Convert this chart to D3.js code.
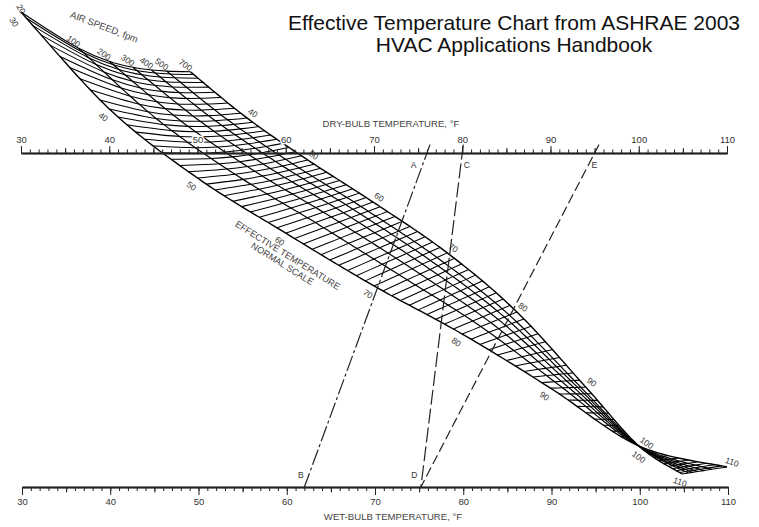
<!DOCTYPE html>
<html>
<head>
<meta charset="utf-8">
<script src="https://cdn.jsdelivr.net/npm/d3@7"></script>
<style>
  body { margin: 0; background: #fff; }
  svg { display: block; font-family: "Liberation Sans", Arial, sans-serif; }
</style>
</head>
<body>
<svg id="chart" width="759" height="527"></svg>
<script>
// temperature scales, °F
const tempDomain = [30, 110];
const majorTicks = [30, 40, 50, 60, 70, 80, 90, 100, 110];
const midTicks = [35, 45, 55, 65, 75, 85, 95, 105];

const etLevels = [30, 40, 50, 60, 70, 80, 90, 100, 110];
// 20 fpm edge: dry-bulb position and depth (0 = dry-bulb scale, 100 = wet-bulb scale)
const stillAirDb = [30, 40, 50, 60, 70, 80, 90, 100, 110];
const stillAirDepth = [-42.2, -13.2, 7.5, 24.0, 39.8, 54.2, 70.4, 87.7, 94.0];
// 700 fpm edge
const fastAirDb = [49.2, 55.6, 62.5, 69.9, 78.3, 86.2, 94.0, 100, 104.9];
const fastAirDepth = [-24.3, -10.5, 2.1, 14.7, 29.9, 47.6, 70.1, 87.7, 96.1];
// sag of the effective temperature lines, depth units
const etBow = [5.4, 2.2, 0.8, 0, 0, 0, 0, 0, 0];

// air speed curves, fpm, and where each sits across the band
const airSpeeds = [20, 100, 200, 300, 400, 500, 700];
const speedFraction = [0, 0.34, 0.52, 0.66, 0.77, 0.86, 1];

const etLabelValues = [40, 50, 60, 70, 80, 90, 100, 110];

// worked examples: dry-bulb / wet-bulb pairs
const exampleTop = ['A', 'C', 'E'];
const exampleBottom = ['B', 'D', 'D'];
const exampleDb = [76, 80, 95];
const exampleWb = [62, 75.2, 75.2];

const dashes = { A: '16,3,3,3', C: '15,4', E: '10,4' };

const svg = d3.select('#chart');
const x = d3.scaleLinear().domain(tempDomain).range([21, 727]);
const xWb = d3.scaleLinear().domain(tempDomain).range([22, 728]);
const depth = d3.scaleLinear().domain([0, 100]).range([153, 487]);

// uniform catmull-rom through the values read at etLevels
function smooth(vals, et) {
  const t0 = (et - etLevels[0]) / 10;
  const i = Math.max(0, Math.min(Math.floor(t0), vals.length - 2));
  const t = t0 - i;
  const p0 = vals[Math.max(i - 1, 0)], p1 = vals[i], p2 = vals[i + 1];
  const p3 = vals[Math.min(i + 2, vals.length - 1)];
  return 0.5 * (2 * p1 + (-p0 + p2) * t + (2 * p0 - 5 * p1 + 4 * p2 - p3) * t * t +
    (-p0 + 3 * p1 - 3 * p2 + p3) * t * t * t);
}

function gridPoint(et, f) {
  const lx = x(smooth(stillAirDb, et)), ly = depth(smooth(stillAirDepth, et));
  const ux = x(smooth(fastAirDb, et)), uy = depth(smooth(fastAirDepth, et));
  const bow = depth(Math.max(0, smooth(etBow, et))) - depth(0);
  return [lx + f * (ux - lx), ly + f * (uy - ly) + bow * Math.sin(Math.PI * f)];
}

// ---- grid ----
const mesh = svg.append('g').attr('fill', 'none').attr('stroke', '#000');
const etLine = d3.line().curve(d3.curveCatmullRom);
d3.range(30, 111).forEach(et => {
  mesh.append('path')
    .attr('d', etLine(speedFraction.map(f => gridPoint(et, f))))
    .attr('stroke-width', 1.05);
});
const speedLine = d3.line();
speedFraction.forEach((f, i) => {
  mesh.append('path')
    .attr('d', speedLine(d3.range(30, 110.01, 0.5).map(et => gridPoint(et, f))))
    .attr('stroke-width', (i === 0 || i === speedFraction.length - 1) ? 1.4 : 1.2);
});

// ---- axes ----
function axisGroup(gen, y) {
  const g = svg.append('g').attr('transform', `translate(0,${y})`).call(gen);
  g.selectAll('line').attr('stroke', '#222');
  g.select('.domain').attr('stroke', '#222').attr('stroke-width', 1.3);
  g.selectAll('text').attr('font-family', '"Liberation Sans", Arial, sans-serif')
    .attr('font-size', 9.5).attr('fill', '#333')
    .attr('stroke', '#fff').attr('stroke-width', 3).attr('paint-order', 'stroke');
  return g;
}
const yTop = depth(0), yBot = depth(100);
axisGroup(d3.axisTop(x).tickValues(d3.range(30, 111)).tickSize(3.5).tickSizeOuter(0).tickFormat(''), yTop);
axisGroup(d3.axisTop(x).tickValues(midTicks).tickSize(5).tickSizeOuter(0).tickFormat(''), yTop);
axisGroup(d3.axisTop(x).tickValues(majorTicks).tickSize(7).tickPadding(3).tickSizeOuter(0).tickFormat(d3.format('d')), yTop);
axisGroup(d3.axisBottom(xWb).tickValues(d3.range(30, 111)).tickSize(4).tickSizeOuter(0).tickFormat(''), yBot);
axisGroup(d3.axisBottom(xWb).tickValues(midTicks).tickSize(5.5).tickSizeOuter(0).tickFormat(''), yBot);
axisGroup(d3.axisBottom(xWb).tickValues(majorTicks).tickSize(8).tickPadding(3).tickSizeOuter(0).tickFormat(d3.format('d')), yBot);

svg.append('text').attr('x', 391).attr('y', 127).attr('text-anchor', 'middle')
  .attr('font-size', 9.6).attr('fill', '#444').text('DRY-BULB TEMPERATURE, °F');
svg.append('text').attr('x', 393).attr('y', 520).attr('text-anchor', 'middle')
  .attr('font-size', 9.6).attr('fill', '#444').text('WET-BULB TEMPERATURE, °F');

// ---- example lines ----
exampleTop.forEach((name, i) => {
  const x0 = x(exampleDb[i]), x1 = xWb(exampleWb[i]);
  const at = d => [x0 + (x1 - x0) * d / 100, depth(d)];
  svg.append('path')
    .attr('d', d3.line()([at(-2.5), at(100)]))
    .attr('fill', 'none').attr('stroke', '#222').attr('stroke-width', 1.2)
    .attr('stroke-dasharray', dashes[name]);
  const top = at(3.6);
  svg.append('text').attr('x', top[0] + (i === 0 ? -9 : 6)).attr('y', top[1] + 3)
    .attr('text-anchor', 'middle').attr('font-size', 8.5).attr('fill', '#333').text(name);
  if (i < 2) {
    const bot = at(96.4);
    svg.append('text').attr('x', bot[0] - 8).attr('y', bot[1] + 3)
      .attr('text-anchor', 'middle').attr('font-size', 8.5).attr('fill', '#333').text(exampleBottom[i]);
  }
});

// ---- grid labels ----
const lab = svg.append('g').attr('font-size', 8.5).attr('fill', '#333').attr('text-anchor', 'middle');
function rotLabel(p, angle, txt) {
  lab.append('text').attr('transform', `translate(${p[0]},${p[1]}) rotate(${angle})`)
    .attr('dy', '0.35em').text(txt);
}
airSpeeds.forEach((v, i) => {
  if (i === 0) return;
  const p = gridPoint(30, speedFraction[i]);
  rotLabel([p[0] - 5, p[1] - 7], 35, v);
});
const apex = gridPoint(30, 0);
rotLabel([apex[0], apex[1] - 3], 60, airSpeeds[0]);
rotLabel([apex[0] - 7, apex[1] + 10], 60, etLevels[0]);
etLabelValues.forEach(et => {
  const a = gridPoint(et, 0), b = gridPoint(et, 1);
  if (et < 100) {
    rotLabel([a[0] - 6, a[1] + 8], 35, et);
    rotLabel([b[0] + 6, b[1] - 5], 35, et);
  } else if (et === 100) {
    rotLabel([a[0] + 8, a[1] - 3], 35, et);
    rotLabel([a[0], a[1] + 11], 35, et);
  } else {
    rotLabel([a[0] + 5, a[1] - 5], 20, et);
    rotLabel([b[0] - 2, b[1] + 8], 20, et);
  }
});

svg.append('text').attr('transform', 'translate(103,30) rotate(21)')
  .attr('text-anchor', 'middle').attr('font-size', 9.5).attr('fill', '#444').text('AIR SPEED, fpm');
const etTitle = svg.append('g').attr('transform', 'translate(286,258) rotate(32)')
  .attr('text-anchor', 'middle').attr('font-size', 9.2).attr('fill', '#444');
etTitle.append('text').attr('y', 0).text('EFFECTIVE TEMPERATURE');
etTitle.append('text').attr('y', 10).text('NORMAL SCALE');

// ---- title ----
const title = svg.append('g').attr('text-anchor', 'middle').attr('font-size', 21).attr('fill', '#111');
title.append('text').attr('x', 514).attr('y', 29.5).text('Effective Temperature Chart from ASHRAE 2003');
title.append('text').attr('x', 514).attr('y', 51.5).text('HVAC Applications Handbook');
</script>
</body>
</html>
